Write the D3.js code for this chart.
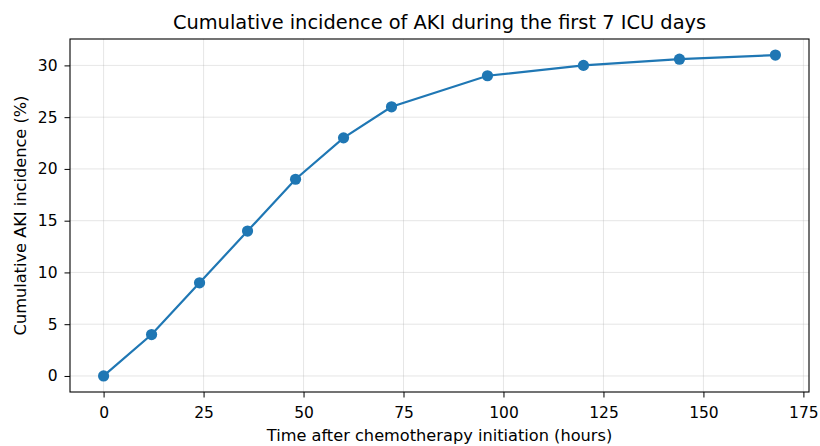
<!DOCTYPE html>
<html><head><meta charset="utf-8">
<script src="https://cdn.jsdelivr.net/npm/d3@7"></script>
<style>body{margin:0;background:#fff;} text{font-family:"DejaVu Sans",sans-serif;}</style>
</head><body><svg id="c" width="820" height="446"></svg>
<script>
const hours = [0, 12, 24, 36, 48, 60, 72, 96, 120, 144, 168];
const incidence = [0, 4, 9, 14, 19, 23, 26, 29, 30, 30.6, 31];
const xTicks = [0, 25, 50, 75, 100, 125, 150, 175];
const yTicks = [0, 5, 10, 15, 20, 25, 30];
const title = "Cumulative incidence of AKI during the first 7 ICU days";
const xLabel = "Time after chemotherapy initiation (hours)";
const yLabel = "Cumulative AKI incidence (%)";

const svg = d3.select("#c");
const L = 70, R = 809, T = 39, B = 392;
const x = d3.scaleLinear().domain([-8.4, 176.4]).range([L, R]);
const y = d3.scaleLinear().domain([-1.55, 32.55]).range([B, T]);
const color = "#1f77b4";

// grid
svg.append("g").selectAll("line").data(xTicks).join("line")
  .attr("x1", d => x(d)).attr("x2", d => x(d)).attr("y1", T).attr("y2", B)
  .attr("stroke", "#b0b0b0").attr("stroke-opacity", 0.4).attr("stroke-width", 0.8);
svg.append("g").selectAll("line").data(yTicks).join("line")
  .attr("y1", d => y(d)).attr("y2", d => y(d)).attr("x1", L).attr("x2", R)
  .attr("stroke", "#b0b0b0").attr("stroke-opacity", 0.4).attr("stroke-width", 0.8);

// axes
const xa = svg.append("g").attr("transform", `translate(0,${B})`)
  .call(d3.axisBottom(x).tickValues(xTicks).tickSize(5.5).tickPadding(9).tickSizeOuter(0));
const ya = svg.append("g").attr("transform", `translate(${L},0)`)
  .call(d3.axisLeft(y).tickValues(yTicks).tickSize(5.5).tickPadding(7).tickSizeOuter(0));
[xa, ya].forEach(a => {
  a.select(".domain").remove();
  a.selectAll("text").attr("font-size", 15.5).attr("fill", "#000").attr("font-family", "DejaVu Sans");
  a.selectAll("line").attr("stroke", "#000").attr("stroke-width", 1);
});
svg.append("rect").attr("x", L).attr("y", T).attr("width", R - L).attr("height", B - T)
  .attr("fill", "none").attr("stroke", "#000").attr("stroke-width", 1.1);

// line
const pts = hours.map((h, i) => [h, incidence[i]]);
svg.append("path").datum(pts)
  .attr("d", d3.line().x(d => x(d[0])).y(d => y(d[1])))
  .attr("fill", "none").attr("stroke", color).attr("stroke-width", 2.2);
svg.append("g").selectAll("circle").data(pts).join("circle")
  .attr("cx", d => x(d[0])).attr("cy", d => y(d[1])).attr("r", 5.6).attr("fill", color);

// labels
svg.append("text").attr("x", (L + R) / 2).attr("y", 28.5).attr("text-anchor", "middle")
  .attr("font-size", 19.4).text(title);
svg.append("text").attr("x", (L + R) / 2).attr("y", 440.5).attr("text-anchor", "middle")
  .attr("font-size", 16.2).text(xLabel);
svg.append("text").attr("transform", `translate(26,${(T + B) / 2}) rotate(-90)`).attr("text-anchor", "middle")
  .attr("font-size", 16.2).text(yLabel);
</script></body></html>
